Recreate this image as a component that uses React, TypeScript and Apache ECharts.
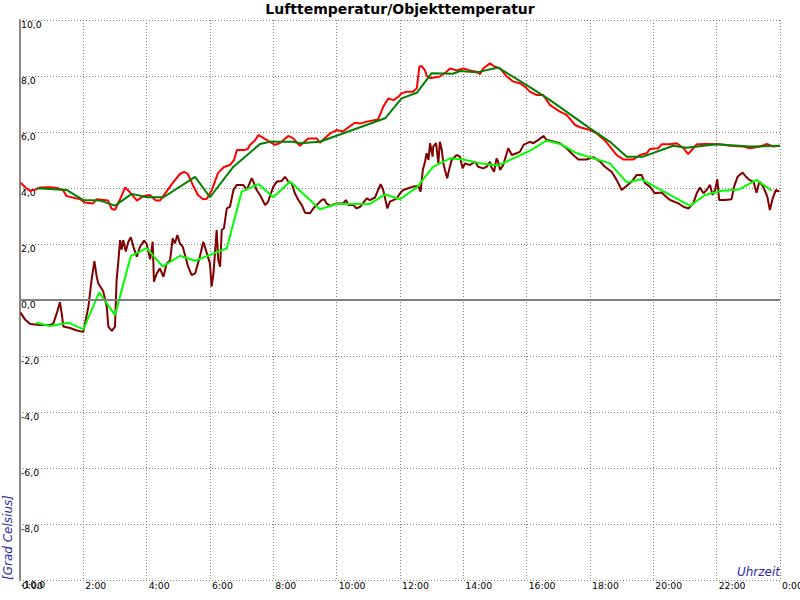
import React, { useEffect, useRef } from "react";
import * as echarts from "echarts";

// [hour, °C]
const airTemp: [number, number][] = [
  [0.02, 4.19], [0.19, 4.0], [0.32, 3.9], [0.51, 3.95], [0.63, 4.02], [0.95, 4.03], [1.17, 4.0],
  [1.36, 3.92], [1.47, 3.71], [1.9, 3.6], [2.05, 3.48], [2.31, 3.45], [2.42, 3.6], [2.78, 3.55],
  [2.9, 3.25], [3.0, 3.22], [3.16, 3.6], [3.32, 4.02], [3.47, 3.85], [3.57, 3.72], [3.69, 3.55],
  [3.88, 3.7], [4.1, 3.75], [4.29, 3.55], [4.42, 3.55], [4.58, 3.8], [4.8, 4.15], [5.05, 4.5],
  [5.18, 4.58], [5.3, 4.5], [5.46, 4.1], [5.62, 3.75], [5.78, 3.6], [5.9, 3.62], [6.06, 3.93],
  [6.25, 4.53], [6.44, 4.75], [6.63, 4.82], [6.76, 5.0], [6.85, 5.36], [7.1, 5.36], [7.2, 5.4],
  [7.26, 5.54], [7.42, 5.7], [7.53, 5.89], [7.67, 5.8], [7.89, 5.65], [8.05, 5.54], [8.2, 5.6],
  [8.47, 5.86], [8.62, 5.78], [8.84, 5.51], [9.1, 5.77], [9.37, 5.77], [9.47, 5.62], [9.79, 5.95],
  [10.0, 6.07], [10.2, 6.02], [10.42, 6.21], [10.58, 6.33], [10.74, 6.3], [10.95, 6.37],
  [11.31, 6.45], [11.47, 6.9], [11.63, 7.2], [11.79, 7.14], [11.95, 7.26], [12.05, 7.38],
  [12.21, 7.44], [12.41, 7.44], [12.53, 7.56], [12.61, 8.33], [12.68, 8.36], [12.79, 8.2],
  [12.84, 8.02], [12.95, 7.92], [13.26, 7.98], [13.47, 8.15], [13.58, 8.27], [13.79, 8.2],
  [14.0, 8.27], [14.21, 8.2], [14.42, 8.15], [14.53, 8.07], [14.63, 8.27], [14.84, 8.45],
  [15.0, 8.33], [15.16, 8.27], [15.37, 7.98], [15.58, 7.8], [15.79, 7.74], [16.0, 7.56],
  [16.1, 7.44], [16.32, 7.32], [16.52, 7.32], [16.74, 6.96], [17.05, 6.73], [17.26, 6.61],
  [17.53, 6.25], [17.68, 6.17], [18.0, 6.07], [18.21, 5.95], [18.47, 5.7], [18.63, 5.48],
  [18.84, 5.18], [19.05, 5.02], [19.37, 5.02], [19.58, 5.18], [19.79, 5.24], [19.89, 5.39],
  [20.16, 5.42], [20.26, 5.56], [20.53, 5.56], [20.74, 5.6], [20.95, 5.42], [21.1, 5.21],
  [21.26, 5.42], [21.37, 5.56], [21.68, 5.57], [22.1, 5.56], [22.42, 5.51], [22.84, 5.48],
  [23.05, 5.42], [23.37, 5.48], [23.58, 5.57], [23.79, 5.48], [23.98, 5.51],
];

const airTempAvg: [number, number][] = [
  [0.53, 3.99], [1.47, 3.93], [2.0, 3.57], [2.53, 3.55], [3.0, 3.37], [3.53, 3.79], [4.01, 3.67],
  [4.53, 3.67], [5.53, 4.4], [6.0, 3.67], [6.74, 4.76], [7.58, 5.57], [7.89, 5.65], [8.1, 5.65],
  [8.62, 5.65], [8.84, 5.6], [9.47, 5.65], [11.53, 6.49], [12.05, 7.2], [12.53, 7.4], [13.0, 8.1],
  [13.67, 8.08], [13.89, 8.18], [14.42, 8.13], [15.1, 8.3], [16.1, 7.6], [16.74, 7.14],
  [18.0, 6.13], [18.63, 5.65], [19.16, 5.12], [19.68, 5.12], [20.63, 5.51], [21.05, 5.44],
  [22.0, 5.56], [23.05, 5.48], [24.0, 5.51],
];

const objTemp: [number, number][] = [
  [0.02, -0.45], [0.16, -0.7], [0.32, -0.86], [0.63, -0.89], [0.95, -0.89], [1.05, -0.85],
  [1.16, -0.48], [1.26, -0.08], [1.32, -0.5], [1.37, -0.95], [1.58, -1.0], [1.77, -1.08],
  [1.95, -1.13], [2.0, -1.13], [2.16, -0.24], [2.26, 0.71], [2.35, 1.39], [2.42, 0.85],
  [2.47, 0.6], [2.63, 0.3], [2.74, -0.24], [2.79, -0.95], [2.9, -1.1], [3.0, -0.95], [3.05, 0.71],
  [3.1, 1.3], [3.16, 2.14], [3.21, 1.8], [3.26, 2.14], [3.34, 1.73], [3.42, 2.08], [3.5, 2.24],
  [3.58, 1.9], [3.69, 1.55], [3.79, 1.9], [3.92, 2.12], [4.0, 2.0], [4.11, 1.45], [4.19, 2.08],
  [4.23, 0.65], [4.32, 0.95], [4.42, 1.13], [4.53, 0.83], [4.63, 1.3], [4.74, 1.42], [4.82, 2.2],
  [4.89, 2.02], [4.97, 2.32], [5.05, 2.02], [5.14, 1.9], [5.21, 1.61], [5.31, 1.19], [5.42, 0.89],
  [5.53, 0.95], [5.68, 1.55], [5.79, 2.08], [5.9, 1.67], [6.0, 1.3], [6.05, 0.48], [6.11, 0.95],
  [6.21, 2.5], [6.26, 1.43], [6.32, 1.19], [6.37, 2.5], [6.44, 2.56], [6.53, 3.27], [6.63, 3.33],
  [6.74, 3.93], [6.84, 4.11], [7.05, 4.11], [7.16, 3.93], [7.32, 4.35], [7.37, 4.23],
  [7.47, 3.93], [7.58, 3.75], [7.74, 3.39], [7.83, 3.5], [8.0, 4.05], [8.11, 4.23], [8.26, 4.25],
  [8.37, 4.4], [8.47, 4.23], [8.58, 4.17], [8.68, 3.81], [8.79, 3.57], [8.9, 3.39], [9.0, 3.12],
  [9.16, 3.1], [9.26, 3.27], [9.42, 3.45], [9.53, 3.57], [9.61, 3.6], [9.68, 3.45], [9.79, 3.36],
  [10.0, 3.45], [10.21, 3.45], [10.29, 3.57], [10.37, 3.39], [10.53, 3.39], [10.63, 3.27],
  [10.74, 3.33], [10.95, 3.63], [11.05, 3.57], [11.21, 3.66], [11.31, 3.93], [11.39, 4.14],
  [11.47, 3.93], [11.53, 3.63], [11.6, 3.27], [11.68, 3.51], [11.79, 3.57], [11.9, 3.63],
  [12.0, 3.81], [12.1, 3.93], [12.26, 3.99], [12.42, 4.05], [12.58, 4.07], [12.65, 3.87],
  [12.72, 4.64], [12.79, 4.94], [12.84, 5.24], [12.9, 5.0], [12.95, 5.6], [13.03, 5.12],
  [13.05, 5.48], [13.14, 5.6], [13.21, 4.88], [13.26, 5.65], [13.32, 5.36], [13.37, 4.88],
  [13.42, 4.64], [13.49, 4.35], [13.56, 4.7], [13.63, 5.0], [13.79, 5.18], [13.89, 5.12],
  [13.98, 4.7], [14.05, 4.88], [14.21, 4.82], [14.37, 4.94], [14.47, 4.76], [14.63, 4.7],
  [14.74, 4.76], [14.84, 4.94], [14.88, 4.76], [14.97, 4.58], [15.05, 5.06], [15.1, 4.94],
  [15.16, 4.64], [15.26, 4.82], [15.37, 5.24], [15.42, 5.42], [15.53, 5.18], [15.68, 5.24],
  [15.79, 5.3], [15.9, 5.54], [16.1, 5.65], [16.21, 5.6], [16.37, 5.72], [16.53, 5.86],
  [16.63, 5.72], [16.84, 5.66], [17.05, 5.6], [17.26, 5.42], [17.47, 5.18], [17.63, 5.02],
  [17.89, 5.02], [18.1, 5.1], [18.32, 4.94], [18.47, 4.76], [18.68, 4.58], [18.84, 4.29],
  [19.0, 3.93], [19.16, 4.08], [19.32, 4.23], [19.47, 4.46], [19.63, 4.46], [19.74, 4.17],
  [19.89, 4.05], [20.05, 3.81], [20.26, 3.84], [20.42, 3.67], [20.53, 3.57], [20.79, 3.45],
  [20.95, 3.33], [21.11, 3.27], [21.26, 3.45], [21.37, 3.81], [21.47, 4.02], [21.58, 3.81],
  [21.68, 3.93], [21.79, 4.11], [21.87, 3.75], [21.95, 3.93], [22.02, 4.31], [22.08, 3.57],
  [22.26, 3.57], [22.47, 3.6], [22.55, 4.05], [22.66, 4.4], [22.82, 4.55], [22.93, 4.4],
  [23.03, 4.29], [23.16, 4.23], [23.26, 3.83], [23.35, 4.23], [23.47, 4.05], [23.6, 3.69],
  [23.68, 3.21], [23.77, 3.63], [23.87, 3.93], [23.98, 3.87],
];

const objTempAvg: [number, number][] = [
  [0.51, -0.81], [0.95, -0.93], [1.53, -0.81], [2.0, -1.05], [2.5, 0.27], [3.0, -0.54],
  [3.5, 1.57], [4.0, 1.85], [4.51, 1.19], [5.05, 1.58], [5.53, 1.4], [6.53, 1.85], [7.0, 3.87],
  [7.53, 4.14], [8.0, 3.67], [8.53, 4.23], [9.47, 3.24], [10.0, 3.43], [11.05, 3.43],
  [11.53, 3.77], [12.0, 3.6], [12.53, 4.02], [13.05, 4.76], [13.58, 5.06], [14.0, 5.02],
  [14.53, 4.88], [15.1, 4.8], [15.58, 5.06], [16.1, 5.33], [16.63, 5.69], [17.1, 5.56],
  [17.58, 5.24], [18.1, 5.06], [18.63, 4.88], [19.16, 4.2], [19.63, 4.31], [21.16, 3.36],
  [21.63, 3.75], [22.16, 3.9], [22.71, 3.95], [23.26, 4.29], [23.74, 3.9],
];

const titleText = "Lufttemperatur/Objekttemperatur";
const yAxisTitle = "[Grad Celsius]";
const xAxisTitle = "Uhrzeit";

const FONT = "DejaVu Sans";
const gridLine = { show: true, lineStyle: { color: "#808080", width: 1, type: [1, 2] as number[] } };

export default function App() {
  const ref = useRef<HTMLDivElement>(null);
  useEffect(() => {
    document.body.style.margin = "0";
    const chart = echarts.init(ref.current!, null, { renderer: "svg" });
    const lineSeries = (name: string, data: [number, number][], color: string, width: number) => ({
      name,
      type: "line",
      data,
      showSymbol: false,
      symbol: "none",
      lineStyle: { color, width },
      itemStyle: { color },
      silent: true,
    });
    chart.setOption({
      animation: false,
      backgroundColor: "#ffffff",
      title: {
        text: titleText,
        left: "center",
        top: 2,
        padding: 0,
        textStyle: { fontFamily: FONT, fontWeight: "bold", fontSize: 14, color: "#000" },
      },
      grid: {
        left: 20,
        right: 20,
        top: 20,
        bottom: 20,
        containLabel: false,
        outerBoundsMode: "none",
      },
      xAxis: {
        type: "value",
        min: 0,
        max: 24,
        interval: 2,
        axisLine: { show: false },
        axisTick: { show: false },
        axisLabel: {
          formatter: (v: number) => `${v % 24}:00`,
          align: "left",
          verticalAlign: "top",
          margin: 1,
          padding: [0, 0, 0, 2],
          fontFamily: FONT,
          fontSize: 9.3,
          color: "#000",
          showMinLabel: true,
          showMaxLabel: true,
        },
        splitLine: gridLine,
      },
      yAxis: {
        type: "value",
        min: -10,
        max: 10,
        interval: 2,
        axisLine: { show: true, onZero: false, lineStyle: { color: "#888888", width: 2 } },
        axisTick: { show: false },
        axisLabel: {
          inside: true,
          formatter: (v: number) => v.toFixed(1).replace(".", ","),
          align: "left",
          verticalAlign: "top",
          margin: 1,
          fontFamily: FONT,
          fontSize: 9.3,
          color: "#000",
          showMinLabel: true,
          showMaxLabel: true,
        },
        splitLine: gridLine,
      },
      graphic: [
        {
          type: "text",
          x: 8,
          y: 580,
          rotation: Math.PI / 2,
          style: {
            text: yAxisTitle,
            fill: "#2a2aa8",
            font: `italic 12px "${FONT}"`,
            align: "left",
            verticalAlign: "middle",
            textAlign: "left",
            textVerticalAlign: "middle",
          },
        },
        {
          type: "text",
          x: 780,
          y: 572,
          style: {
            text: xAxisTitle,
            fill: "#2a2aa8",
            font: `italic 12px "${FONT}"`,
            align: "right",
            verticalAlign: "middle",
            textAlign: "right",
            textVerticalAlign: "middle",
          },
        },
      ],
      series: [
        {
          ...lineSeries("Lufttemperatur", airTemp, "#ff0000", 2),
          markLine: {
            silent: true,
            symbol: ["none", "none"],
            label: { show: false },
            lineStyle: { color: "#808080", width: 2, type: "solid" },
            data: [{ yAxis: 0 }],
          },
        },
        lineSeries("Lufttemperatur Mittel", airTempAvg, "#008000", 2),
        lineSeries("Objekttemperatur", objTemp, "#800000", 2),
        lineSeries("Objekttemperatur Mittel", objTempAvg, "#00ff00", 2),
      ],
    });
    return () => chart.dispose();
  }, []);
  return (
    <div
      ref={ref}
      style={{ position: "absolute", left: 0, top: 0, width: 800, height: 600 }}
    />
  );
}
